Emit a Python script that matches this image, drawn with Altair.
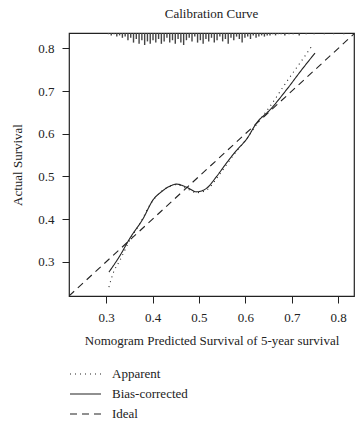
import altair as alt
import pandas as pd

FONT = "Liberation Serif"
INK = "#222222"

# Bias-corrected calibration curve
bc_x = [0.306, 0.330, 0.351, 0.380, 0.401, 0.419, 0.435, 0.452, 0.473, 0.495,
        0.516, 0.538, 0.559, 0.580, 0.603, 0.624, 0.653, 0.690, 0.720, 0.750]
bc_y = [0.276, 0.315, 0.355, 0.402, 0.445, 0.464, 0.476, 0.482, 0.475, 0.464,
        0.472, 0.500, 0.531, 0.560, 0.588, 0.625, 0.656, 0.705, 0.748, 0.789]

# Apparent calibration curve
ap_x = [0.306, 0.315, 0.330, 0.351, 0.373, 0.394, 0.412, 0.435, 0.452, 0.473,
        0.495, 0.516, 0.538, 0.559, 0.580, 0.603, 0.624, 0.653, 0.689, 0.725, 0.743]
ap_y = [0.241, 0.273, 0.304, 0.351, 0.390, 0.433, 0.458, 0.476, 0.481, 0.472,
        0.462, 0.468, 0.495, 0.527, 0.558, 0.588, 0.622, 0.664, 0.722, 0.777, 0.805]

# Ideal line
id_x = [0.22, 0.834]
id_y = [0.22, 0.834]

# Distribution of predicted values (rug at top)
rug_x = [0.305, 0.311, 0.317, 0.323, 0.329, 0.335, 0.341, 0.347, 0.353, 0.359,
         0.365, 0.371, 0.377, 0.383, 0.389, 0.395, 0.401, 0.407, 0.413, 0.419,
         0.425, 0.431, 0.437, 0.443, 0.449, 0.455, 0.461, 0.467, 0.473, 0.479,
         0.485, 0.491, 0.497, 0.503, 0.509, 0.515, 0.521, 0.527, 0.533, 0.539,
         0.545, 0.551, 0.557, 0.563, 0.569, 0.575, 0.581, 0.587, 0.593, 0.599,
         0.605, 0.611, 0.617, 0.623, 0.629, 0.635, 0.641, 0.647, 0.653, 0.659,
         0.665, 0.671, 0.677, 0.685, 0.694, 0.703, 0.716, 0.731, 0.748, 0.770,
         0.790, 0.812]
rug_n = [1, 2, 1, 3, 2, 4, 3, 6, 4, 8,
         5, 9, 6, 10, 7, 9, 6, 8, 5, 9,
         7, 4, 8, 6, 9, 5, 8, 10, 6, 4,
         7, 3, 8, 6, 9, 5, 7, 4, 8, 6,
         3, 7, 5, 9, 4, 6, 3, 5, 8, 4,
         3, 5, 2, 4, 3, 2, 3, 2, 2, 1,
         2, 1, 1, 2, 1, 1, 2, 1, 1, 1,
         1, 1]

series_names = ["Apparent", "Bias-corrected", "Ideal"]

rows = []
for x, y in zip(ap_x, ap_y):
    rows.append({"x": x, "y": y, "series": "Apparent"})
for x, y in zip(bc_x, bc_y):
    rows.append({"x": x, "y": y, "series": "Bias-corrected"})
for x, y in zip(id_x, id_y):
    rows.append({"x": x, "y": y, "series": "Ideal"})
curves = pd.DataFrame(rows)
rug = pd.DataFrame({"x": rug_x, "n": rug_n})

xscale = alt.Scale(domain=[0.22, 0.834], nice=False, zero=False)
yscale = alt.Scale(domain=[0.22, 0.836], nice=False, zero=False)

xaxis = alt.Axis(values=[0.3, 0.4, 0.5, 0.6, 0.7, 0.8], format=".1f",
                 title="Nomogram Predicted Survival of 5-year survival",
                 grid=False, domain=False, tickSize=7, tickColor=INK,
                 labelPadding=8, titlePadding=10)
yaxis = alt.Axis(values=[0.3, 0.4, 0.5, 0.6, 0.7, 0.8], format=".1f",
                 title="Actual Survival", grid=False, domain=False,
                 tickSize=7, tickColor=INK, labelPadding=8, titlePadding=13)

lines = alt.Chart(curves).mark_line(strokeWidth=1.1, color=INK, clip=True,
                                    interpolate="monotone").encode(
    x=alt.X("x:Q", scale=xscale, axis=xaxis),
    y=alt.Y("y:Q", scale=yscale, axis=yaxis),
    strokeDash=alt.StrokeDash(
        "series:N",
        scale=alt.Scale(domain=series_names, range=[[1, 4], [1, 0], [7, 5]]),
        legend=alt.Legend(title=None, orient="none", legendX=0, legendY=334,
                          symbolType="stroke", symbolSize=961,
                          symbolStrokeColor=INK, symbolStrokeWidth=1.1,
                          clipHeight=14, labelOffset=10, rowPadding=6,
                          labelFontSize=13, labelFont=FONT, labelColor=INK),
    ),
    detail="series:N",
)

rug_layer = alt.Chart(rug).mark_rule(color="#444444", strokeWidth=1.4).encode(
    x=alt.X("x:Q", scale=xscale),
    y=alt.Y("n:Q", scale=alt.Scale(domain=[0, 219], reverse=True, nice=False),
            axis=None),
    y2=alt.value(0),
)

chart = alt.layer(rug_layer, lines).resolve_scale(y="independent").properties(
    width=285, height=263,
    title=alt.TitleParams("Calibration Curve", fontSize=13, font=FONT,
                          fontWeight="normal", color=INK, offset=11),
    autosize=alt.AutoSizeParams(type="none"),
    padding={"left": 69, "top": 33, "right": 8, "bottom": 131},
    background="white",
).configure_view(stroke=INK, strokeWidth=1.2).configure_axis(
    labelFont=FONT, titleFont=FONT, labelFontSize=13, titleFontSize=13,
    labelColor=INK, titleColor=INK, titleFontWeight="normal",
)

chart.save("out.html", embed_options={"renderer": "svg", "actions": False})
